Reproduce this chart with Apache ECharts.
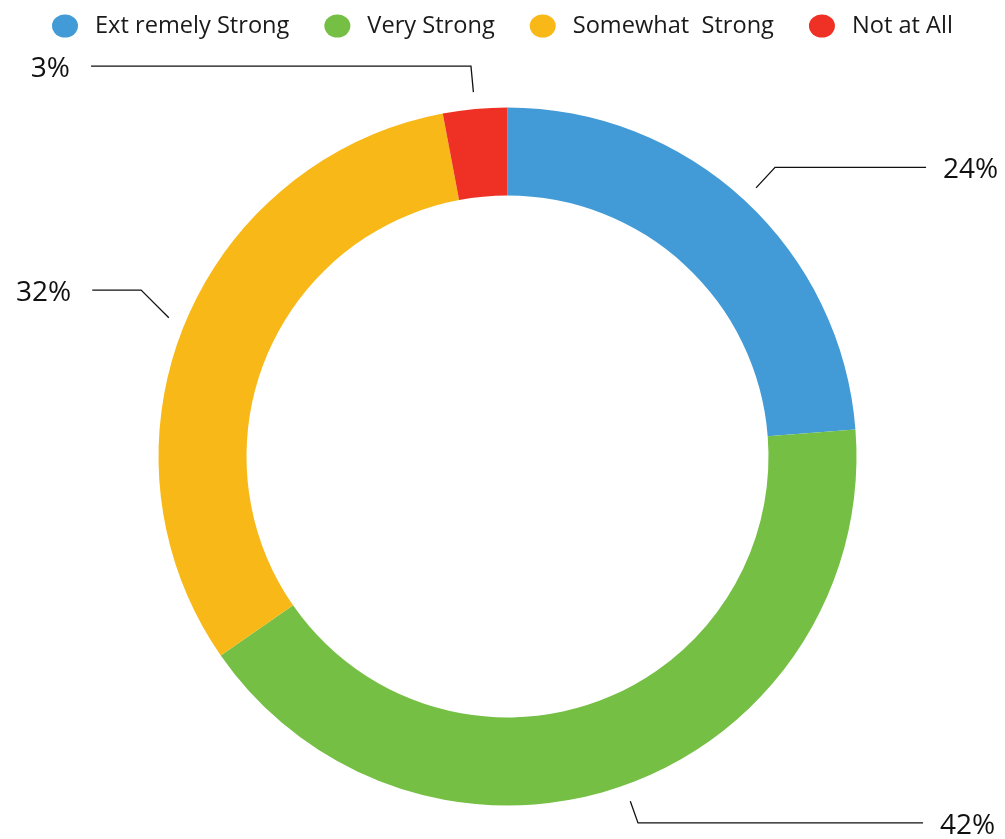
<!DOCTYPE html>
<html>
<head>
<meta charset="utf-8">
<title>Strength of Opinion</title>
<script src="https://cdn.jsdelivr.net/npm/echarts@6/dist/echarts.min.js"></script>
<style>
  html, body { margin: 0; padding: 0; background: #ffffff; }
  #chart { width: 1005px; height: 839px; }
</style>
</head>
<body>
<div id="chart"></div>
<script>
// Response categories and their shares (percent)
const categories = ['Ext remely Strong', 'Very Strong', 'Somewhat  Strong', 'Not at All'];
const shares = [24, 42, 32, 3];
const colors = ['#429bd6', '#74bf44', '#f8b918', '#ee3124'];

// Leader line lengths per slice: radial part, then horizontal part
const leadRadial = [45, 40, 90, 43];
const leadHorizontal = [151, 285, 9, 380];
// Space between the end of each leader line and its label
const labelGap = [17, 17, 21, 21];

// Distance between the ring and the start of each leader line
const LEADER_GAP = 17;

const chart = echarts.init(document.getElementById('chart'), null, { renderer: 'canvas' });

const ellipse = 'path://M0,10a10,10 0 1,0 20,0a10,10 0 1,0 -20,0z';

chart.setOption({
  animation: false,
  legend: {
    left: 52,
    top: 14,
    padding: 0,
    itemWidth: 26,
    itemHeight: 23,
    itemGap: 35,
    icon: ellipse,
    symbolKeepAspect: false,
    textStyle: {
      fontFamily: 'Open Sans',
      fontSize: 23.6,
      color: '#1a1a1a',
      padding: [0, 0, 0, 12]
    },
    data: categories
  },
  series: [{
    type: 'pie',
    center: [507.5, 456.5],
    radius: [261, 349],
    startAngle: 90,
    clockwise: true,
    avoidLabelOverlap: false,
    itemStyle: { borderWidth: 0 },
    emphasis: { disabled: true },
    label: {
      show: true,
      position: 'outside',
      formatter: '{c}%',
      fontFamily: 'Open Sans',
      fontSize: 28,
      color: '#111111',
      bleedMargin: 1
    },
    labelLine: {
      show: true,
      lineStyle: { color: '#111111', width: 1.3 }
    },
    labelLayout: function (params) {
      const pts = params.labelLinePoints;
      if (!pts || pts.length < 3) return {};
      const p0 = pts[0], p1 = pts[1], p2 = pts[2];
      // unit vector of the radial segment
      let ux = p1[0] - p0[0], uy = p1[1] - p0[1];
      const len = Math.hypot(ux, uy) || 1;
      ux /= len; uy /= len;
      // start a little away from the ring
      const s = [p0[0] + ux * LEADER_GAP, p0[1] + uy * LEADER_GAP];
      // elbow: rise to the label line, never flatter than 45 degrees
      const dy = Math.abs(p2[1] - s[1]);
      const slope = Math.abs(uy) > 1e-6 ? Math.abs(ux / uy) : 1;
      const dx = Math.sign(ux) * dy * Math.min(1, slope);
      const elbow = [s[0] + dx, p2[1]];
      return {
        dy: 3,
        labelLinePoints: [s, elbow, [p2[0], p2[1]]]
      };
    },
    data: categories.map((name, i) => ({
      name: name,
      value: shares[i],
      itemStyle: { color: colors[i] },
      label: { distanceToLabelLine: labelGap[i] },
      labelLine: { length: leadRadial[i], length2: leadHorizontal[i] }
    }))
  }]
});
</script>
</body>
</html>
